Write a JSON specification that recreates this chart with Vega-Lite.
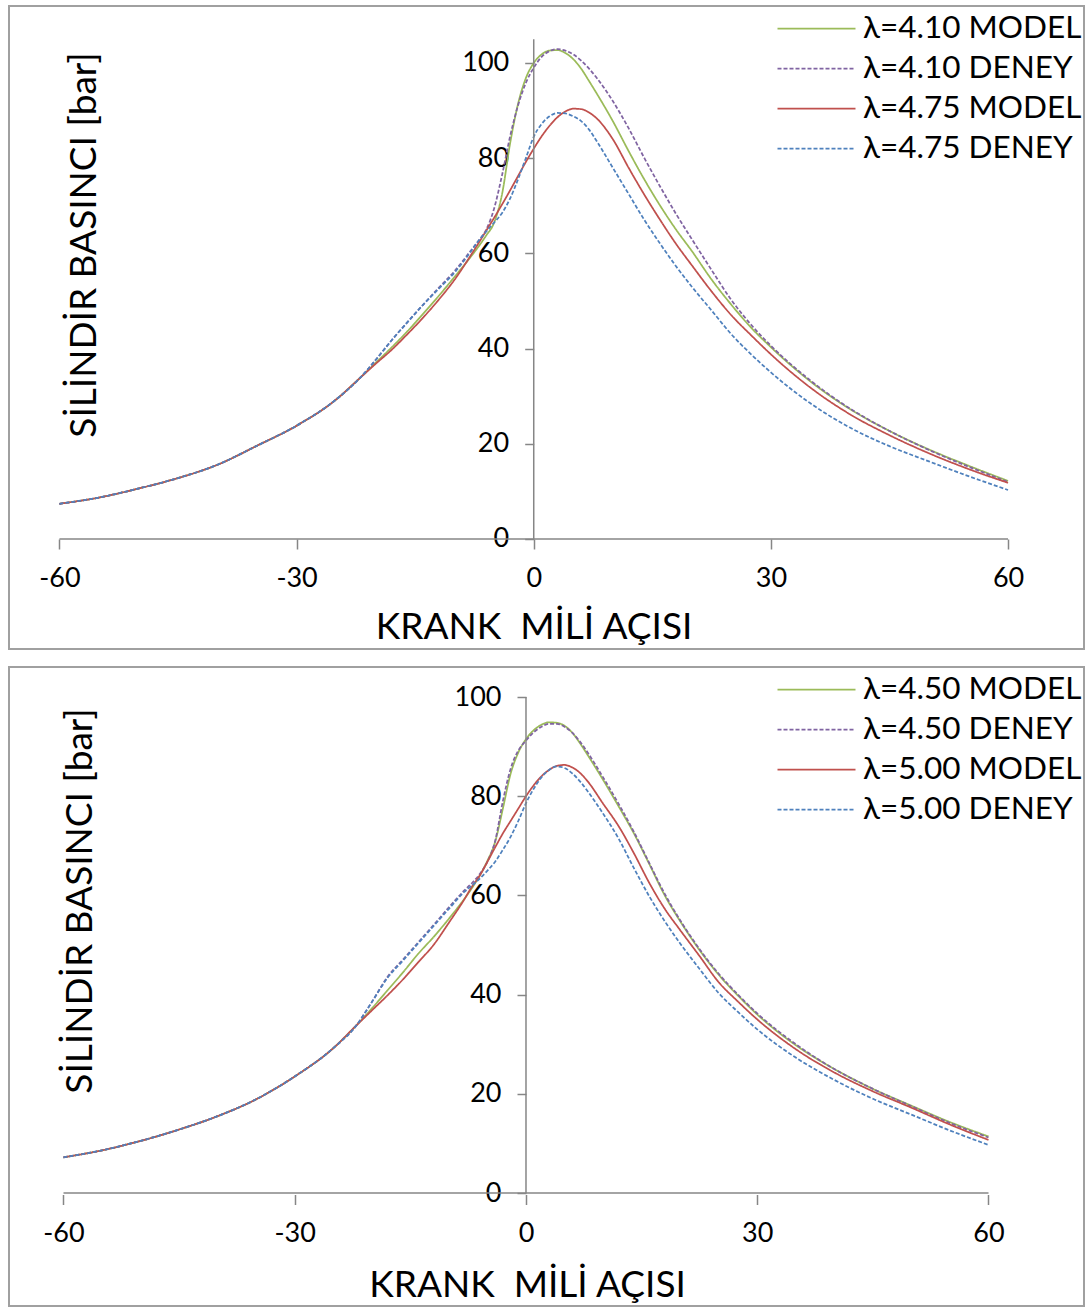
{
  "$schema": "https://vega.github.io/schema/vega-lite/v6.json",
  "padding": {"left": 8, "top": 5, "right": 4, "bottom": 3},
  "spacing": 16,
  "config": {
    "font": "Lato",
    "view": {"stroke": "#a0a0a0", "strokeWidth": 2},
    "axis": {"grid": false, "domain": false, "tickColor": "#868686", "tickWidth": 1.5, "labelColor": "#000000", "labelFontSize": 27, "titleColor": "#000000", "titleFontWeight": "normal", "titleFontSize": 37, "labelFlush": false, "labelOverlap": false, "labelExpr": "'' + datum.value"},
    "legend": {"orient": "top-right", "offset": 2, "padding": 0, "rowPadding": 4, "symbolType": "M-2,0H2", "symbolSize": 1521, "symbolStrokeWidth": 1.75, "labelFontSize": 31.5, "labelColor": "#000000", "labelOffset": 26, "labelLimit": 500}
  },
  "resolve": {"scale": {"color": "independent", "strokeDash": "independent"}},
  "vconcat": [
    {
      "width": 1075,
      "height": 643,
      "layer": [
        {
          "data": {"values": [
            {"s":"λ=4.10 MODEL","a":-60,"p":7.4},{"s":"λ=4.10 MODEL","a":-55,"p":8.7},{"s":"λ=4.10 MODEL","a":-50,"p":10.6},{"s":"λ=4.10 MODEL","a":-45,"p":12.8},{"s":"λ=4.10 MODEL","a":-40,"p":15.6},{"s":"λ=4.10 MODEL","a":-35,"p":19.6},{"s":"λ=4.10 MODEL","a":-30,"p":23.8},{"s":"λ=4.10 MODEL","a":-25,"p":29.3},{"s":"λ=4.10 MODEL","a":-22,"p":33.8},{"s":"λ=4.10 MODEL","a":-20,"p":37.0},{"s":"λ=4.10 MODEL","a":-18,"p":40.2},{"s":"λ=4.10 MODEL","a":-16,"p":43.6},{"s":"λ=4.10 MODEL","a":-14,"p":47.3},{"s":"λ=4.10 MODEL","a":-12,"p":51.1},{"s":"λ=4.10 MODEL","a":-10,"p":55.1},{"s":"λ=4.10 MODEL","a":-8,"p":59.2},{"s":"λ=4.10 MODEL","a":-7,"p":61.4},{"s":"λ=4.10 MODEL","a":-6,"p":63.8},{"s":"λ=4.10 MODEL","a":-5,"p":66.5},{"s":"λ=4.10 MODEL","a":-4,"p":72.5},{"s":"λ=4.10 MODEL","a":-3,"p":83.0},{"s":"λ=4.10 MODEL","a":-2,"p":91.3},{"s":"λ=4.10 MODEL","a":-1,"p":96.8},{"s":"λ=4.10 MODEL","a":0,"p":100.0},{"s":"λ=4.10 MODEL","a":1,"p":101.8},{"s":"λ=4.10 MODEL","a":2,"p":102.6},{"s":"λ=4.10 MODEL","a":3,"p":102.7},{"s":"λ=4.10 MODEL","a":4,"p":102.1},{"s":"λ=4.10 MODEL","a":5,"p":100.8},{"s":"λ=4.10 MODEL","a":6,"p":98.8},{"s":"λ=4.10 MODEL","a":7,"p":96.2},{"s":"λ=4.10 MODEL","a":8,"p":93.5},{"s":"λ=4.10 MODEL","a":10,"p":87.8},{"s":"λ=4.10 MODEL","a":12,"p":81.5},{"s":"λ=4.10 MODEL","a":14,"p":75.5},{"s":"λ=4.10 MODEL","a":16,"p":70.0},{"s":"λ=4.10 MODEL","a":18,"p":65.0},{"s":"λ=4.10 MODEL","a":20,"p":60.5},{"s":"λ=4.10 MODEL","a":22.5,"p":54.5},{"s":"λ=4.10 MODEL","a":25,"p":49.2},{"s":"λ=4.10 MODEL","a":27.5,"p":44.4},{"s":"λ=4.10 MODEL","a":30,"p":40.3},{"s":"λ=4.10 MODEL","a":35,"p":33.1},{"s":"λ=4.10 MODEL","a":40,"p":27.3},{"s":"λ=4.10 MODEL","a":45,"p":22.7},{"s":"λ=4.10 MODEL","a":50,"p":18.8},{"s":"λ=4.10 MODEL","a":55,"p":15.4},{"s":"λ=4.10 MODEL","a":60,"p":12.2},

            {"s":"λ=4.10 DENEY","a":-60,"p":7.4},{"s":"λ=4.10 DENEY","a":-55,"p":8.7},{"s":"λ=4.10 DENEY","a":-50,"p":10.6},{"s":"λ=4.10 DENEY","a":-45,"p":12.8},{"s":"λ=4.10 DENEY","a":-40,"p":15.6},{"s":"λ=4.10 DENEY","a":-35,"p":19.6},{"s":"λ=4.10 DENEY","a":-30,"p":23.8},{"s":"λ=4.10 DENEY","a":-25,"p":29.3},{"s":"λ=4.10 DENEY","a":-22,"p":33.8},{"s":"λ=4.10 DENEY","a":-20,"p":37.6},{"s":"λ=4.10 DENEY","a":-18,"p":41.7},{"s":"λ=4.10 DENEY","a":-16,"p":45.5},{"s":"λ=4.10 DENEY","a":-14,"p":49.2},{"s":"λ=4.10 DENEY","a":-12,"p":52.8},{"s":"λ=4.10 DENEY","a":-10,"p":56.3},{"s":"λ=4.10 DENEY","a":-8,"p":60.5},{"s":"λ=4.10 DENEY","a":-7,"p":62.6},{"s":"λ=4.10 DENEY","a":-6,"p":65.0},{"s":"λ=4.10 DENEY","a":-5,"p":69.5},{"s":"λ=4.10 DENEY","a":-4,"p":76.5},{"s":"λ=4.10 DENEY","a":-3,"p":84.5},{"s":"λ=4.10 DENEY","a":-2,"p":91.0},{"s":"λ=4.10 DENEY","a":-1,"p":95.8},{"s":"λ=4.10 DENEY","a":0,"p":99.0},{"s":"λ=4.10 DENEY","a":1,"p":101.3},{"s":"λ=4.10 DENEY","a":2,"p":102.5},{"s":"λ=4.10 DENEY","a":3,"p":102.9},{"s":"λ=4.10 DENEY","a":4,"p":102.6},{"s":"λ=4.10 DENEY","a":5,"p":101.8},{"s":"λ=4.10 DENEY","a":6,"p":100.5},{"s":"λ=4.10 DENEY","a":7,"p":98.8},{"s":"λ=4.10 DENEY","a":8,"p":96.8},{"s":"λ=4.10 DENEY","a":10,"p":92.0},{"s":"λ=4.10 DENEY","a":12,"p":86.3},{"s":"λ=4.10 DENEY","a":14,"p":80.0},{"s":"λ=4.10 DENEY","a":16,"p":74.0},{"s":"λ=4.10 DENEY","a":18,"p":68.3},{"s":"λ=4.10 DENEY","a":20,"p":63.0},{"s":"λ=4.10 DENEY","a":22.5,"p":56.5},{"s":"λ=4.10 DENEY","a":25,"p":50.2},{"s":"λ=4.10 DENEY","a":27.5,"p":45.0},{"s":"λ=4.10 DENEY","a":30,"p":40.6},{"s":"λ=4.10 DENEY","a":35,"p":33.3},{"s":"λ=4.10 DENEY","a":40,"p":27.4},{"s":"λ=4.10 DENEY","a":45,"p":22.7},{"s":"λ=4.10 DENEY","a":50,"p":18.7},{"s":"λ=4.10 DENEY","a":55,"p":15.2},{"s":"λ=4.10 DENEY","a":60,"p":12.0},

            {"s":"λ=4.75 MODEL","a":-60,"p":7.4},{"s":"λ=4.75 MODEL","a":-55,"p":8.7},{"s":"λ=4.75 MODEL","a":-50,"p":10.6},{"s":"λ=4.75 MODEL","a":-45,"p":12.8},{"s":"λ=4.75 MODEL","a":-40,"p":15.6},{"s":"λ=4.75 MODEL","a":-35,"p":19.6},{"s":"λ=4.75 MODEL","a":-30,"p":23.8},{"s":"λ=4.75 MODEL","a":-25,"p":29.3},{"s":"λ=4.75 MODEL","a":-22,"p":33.8},{"s":"λ=4.75 MODEL","a":-20,"p":36.8},{"s":"λ=4.75 MODEL","a":-18,"p":39.7},{"s":"λ=4.75 MODEL","a":-16,"p":43.0},{"s":"λ=4.75 MODEL","a":-14,"p":46.5},{"s":"λ=4.75 MODEL","a":-12,"p":50.3},{"s":"λ=4.75 MODEL","a":-10,"p":54.5},{"s":"λ=4.75 MODEL","a":-8,"p":59.5},{"s":"λ=4.75 MODEL","a":-7,"p":62.1},{"s":"λ=4.75 MODEL","a":-6,"p":64.8},{"s":"λ=4.75 MODEL","a":-5,"p":67.5},{"s":"λ=4.75 MODEL","a":-4,"p":70.3},{"s":"λ=4.75 MODEL","a":-3,"p":73.2},{"s":"λ=4.75 MODEL","a":-2,"p":76.2},{"s":"λ=4.75 MODEL","a":-1,"p":79.2},{"s":"λ=4.75 MODEL","a":0,"p":82.0},{"s":"λ=4.75 MODEL","a":1,"p":84.6},{"s":"λ=4.75 MODEL","a":2,"p":86.8},{"s":"λ=4.75 MODEL","a":3,"p":88.6},{"s":"λ=4.75 MODEL","a":4,"p":89.8},{"s":"λ=4.75 MODEL","a":5,"p":90.4},{"s":"λ=4.75 MODEL","a":6,"p":90.3},{"s":"λ=4.75 MODEL","a":7,"p":89.6},{"s":"λ=4.75 MODEL","a":8,"p":88.3},{"s":"λ=4.75 MODEL","a":10,"p":84.0},{"s":"λ=4.75 MODEL","a":12,"p":78.0},{"s":"λ=4.75 MODEL","a":14,"p":72.3},{"s":"λ=4.75 MODEL","a":16,"p":67.0},{"s":"λ=4.75 MODEL","a":18,"p":62.0},{"s":"λ=4.75 MODEL","a":20,"p":57.5},{"s":"λ=4.75 MODEL","a":22.5,"p":52.0},{"s":"λ=4.75 MODEL","a":25,"p":47.0},{"s":"λ=4.75 MODEL","a":27.5,"p":42.8},{"s":"λ=4.75 MODEL","a":30,"p":38.8},{"s":"λ=4.75 MODEL","a":35,"p":31.8},{"s":"λ=4.75 MODEL","a":40,"p":26.2},{"s":"λ=4.75 MODEL","a":45,"p":21.8},{"s":"λ=4.75 MODEL","a":50,"p":18.0},{"s":"λ=4.75 MODEL","a":55,"p":14.7},{"s":"λ=4.75 MODEL","a":60,"p":11.8},

            {"s":"λ=4.75 DENEY","a":-60,"p":7.4},{"s":"λ=4.75 DENEY","a":-55,"p":8.7},{"s":"λ=4.75 DENEY","a":-50,"p":10.6},{"s":"λ=4.75 DENEY","a":-45,"p":12.8},{"s":"λ=4.75 DENEY","a":-40,"p":15.6},{"s":"λ=4.75 DENEY","a":-35,"p":19.6},{"s":"λ=4.75 DENEY","a":-30,"p":23.8},{"s":"λ=4.75 DENEY","a":-25,"p":29.3},{"s":"λ=4.75 DENEY","a":-22,"p":33.8},{"s":"λ=4.75 DENEY","a":-20,"p":37.6},{"s":"λ=4.75 DENEY","a":-18,"p":41.7},{"s":"λ=4.75 DENEY","a":-16,"p":45.5},{"s":"λ=4.75 DENEY","a":-14,"p":49.2},{"s":"λ=4.75 DENEY","a":-12,"p":52.6},{"s":"λ=4.75 DENEY","a":-10,"p":56.0},{"s":"λ=4.75 DENEY","a":-8,"p":60.3},{"s":"λ=4.75 DENEY","a":-7,"p":62.6},{"s":"λ=4.75 DENEY","a":-6,"p":64.6},{"s":"λ=4.75 DENEY","a":-5,"p":66.5},{"s":"λ=4.75 DENEY","a":-4,"p":68.5},{"s":"λ=4.75 DENEY","a":-3,"p":71.5},{"s":"λ=4.75 DENEY","a":-2,"p":75.5},{"s":"λ=4.75 DENEY","a":-1,"p":80.0},{"s":"λ=4.75 DENEY","a":0,"p":84.5},{"s":"λ=4.75 DENEY","a":1,"p":87.2},{"s":"λ=4.75 DENEY","a":2,"p":88.8},{"s":"λ=4.75 DENEY","a":3,"p":89.5},{"s":"λ=4.75 DENEY","a":4,"p":89.4},{"s":"λ=4.75 DENEY","a":5,"p":88.8},{"s":"λ=4.75 DENEY","a":6,"p":87.8},{"s":"λ=4.75 DENEY","a":7,"p":86.0},{"s":"λ=4.75 DENEY","a":8,"p":83.5},{"s":"λ=4.75 DENEY","a":10,"p":78.0},{"s":"λ=4.75 DENEY","a":12,"p":72.5},{"s":"λ=4.75 DENEY","a":14,"p":67.0},{"s":"λ=4.75 DENEY","a":16,"p":62.0},{"s":"λ=4.75 DENEY","a":18,"p":57.3},{"s":"λ=4.75 DENEY","a":20,"p":53.0},{"s":"λ=4.75 DENEY","a":22.5,"p":48.0},{"s":"λ=4.75 DENEY","a":25,"p":43.0},{"s":"λ=4.75 DENEY","a":27.5,"p":38.8},{"s":"λ=4.75 DENEY","a":30,"p":35.0},{"s":"λ=4.75 DENEY","a":35,"p":28.5},{"s":"λ=4.75 DENEY","a":40,"p":23.4},{"s":"λ=4.75 DENEY","a":45,"p":19.5},{"s":"λ=4.75 DENEY","a":50,"p":16.3},{"s":"λ=4.75 DENEY","a":55,"p":13.2},{"s":"λ=4.75 DENEY","a":60,"p":10.3}
          ]},
          "mark": {"type": "line", "interpolate": "monotone", "strokeWidth": 1.75},
          "encoding": {
            "x": {"field": "a", "type": "quantitative", "scale": {"domain": [-66.38, 69.61], "nice": false, "zero": false},
                  "axis": {"values": [-60, -30, 0, 30, 60], "offset": -110, "tickSize": 10, "labelPadding": 16, "title": "KRANK\u00a0 MİLİ AÇISI", "titleX": 524.5, "titleY": 99, "titleAlign": "center", "titleBaseline": "alphabetic"}},
            "y": {"field": "p", "type": "quantitative", "scale": {"domain": [-23.11, 111.97], "nice": false, "zero": false},
                  "axis": {"values": [0, 20, 40, 60, 80, 100], "offset": -524.7, "tickSize": 9, "labelPadding": 16, "title": "SİLİNDİR BASINCI [bar]", "titleAngle": 270, "titleX": -438, "titleY": 238.5, "titleAlign": "center", "titleBaseline": "alphabetic"}},
            "color": {"field": "s", "type": "nominal", "title": null,
                      "scale": {"domain": ["λ=4.10 MODEL", "λ=4.10 DENEY", "λ=4.75 MODEL", "λ=4.75 DENEY"], "range": ["#9bbb59", "#8064a2", "#c0504d", "#4f81bd"]}},
            "strokeDash": {"field": "s", "type": "nominal", "title": null,
                      "scale": {"domain": ["λ=4.10 MODEL", "λ=4.10 DENEY", "λ=4.75 MODEL", "λ=4.75 DENEY"], "range": [[1, 0], [4, 2], [1, 0], [4, 2]]}}
          }
        },
        {"data": {"values": [{}]}, "mark": {"type": "rule", "color": "#868686", "strokeWidth": 1.5},
         "encoding": {"x": {"datum": -60, "type": "quantitative"}, "x2": {"datum": 60}, "y": {"datum": 0, "type": "quantitative"}}},
        {"data": {"values": [{}]}, "mark": {"type": "rule", "color": "#868686", "strokeWidth": 1.5},
         "encoding": {"x": {"datum": 0, "type": "quantitative"}, "y": {"datum": 0, "type": "quantitative"}, "y2": {"datum": 105}}}
      ]
    },
    {
      "width": 1075,
      "height": 639,
      "layer": [
        {
          "data": {"values": [
            {"s":"λ=4.50 MODEL","a":-60,"p":7.2},{"s":"λ=4.50 MODEL","a":-55,"p":8.6},{"s":"λ=4.50 MODEL","a":-50,"p":10.5},{"s":"λ=4.50 MODEL","a":-45,"p":12.8},{"s":"λ=4.50 MODEL","a":-40,"p":15.5},{"s":"λ=4.50 MODEL","a":-35,"p":18.9},{"s":"λ=4.50 MODEL","a":-30,"p":23.5},{"s":"λ=4.50 MODEL","a":-25,"p":29.2},{"s":"λ=4.50 MODEL","a":-22,"p":33.8},{"s":"λ=4.50 MODEL","a":-20,"p":37.2},{"s":"λ=4.50 MODEL","a":-18,"p":40.8},{"s":"λ=4.50 MODEL","a":-16,"p":44.4},{"s":"λ=4.50 MODEL","a":-14,"p":48.2},{"s":"λ=4.50 MODEL","a":-12,"p":51.6},{"s":"λ=4.50 MODEL","a":-10,"p":55.3},{"s":"λ=4.50 MODEL","a":-8,"p":59.3},{"s":"λ=4.50 MODEL","a":-7,"p":61.5},{"s":"λ=4.50 MODEL","a":-6,"p":64.0},{"s":"λ=4.50 MODEL","a":-5,"p":67.0},{"s":"λ=4.50 MODEL","a":-4,"p":70.8},{"s":"λ=4.50 MODEL","a":-3,"p":77.5},{"s":"λ=4.50 MODEL","a":-2,"p":84.5},{"s":"λ=4.50 MODEL","a":-1,"p":88.8},{"s":"λ=4.50 MODEL","a":0,"p":91.5},{"s":"λ=4.50 MODEL","a":1,"p":93.3},{"s":"λ=4.50 MODEL","a":2,"p":94.4},{"s":"λ=4.50 MODEL","a":3,"p":94.9},{"s":"λ=4.50 MODEL","a":4,"p":94.8},{"s":"λ=4.50 MODEL","a":5,"p":94.2},{"s":"λ=4.50 MODEL","a":6,"p":92.8},{"s":"λ=4.50 MODEL","a":7,"p":90.7},{"s":"λ=4.50 MODEL","a":8,"p":88.3},{"s":"λ=4.50 MODEL","a":10,"p":83.3},{"s":"λ=4.50 MODEL","a":12,"p":78.0},{"s":"λ=4.50 MODEL","a":14,"p":72.5},{"s":"λ=4.50 MODEL","a":16,"p":66.3},{"s":"λ=4.50 MODEL","a":18,"p":60.0},{"s":"λ=4.50 MODEL","a":20,"p":54.8},{"s":"λ=4.50 MODEL","a":22.5,"p":49.0},{"s":"λ=4.50 MODEL","a":25,"p":44.0},{"s":"λ=4.50 MODEL","a":27.5,"p":39.8},{"s":"λ=4.50 MODEL","a":30,"p":36.0},{"s":"λ=4.50 MODEL","a":35,"p":29.8},{"s":"λ=4.50 MODEL","a":40,"p":25.0},{"s":"λ=4.50 MODEL","a":45,"p":21.0},{"s":"λ=4.50 MODEL","a":50,"p":17.6},{"s":"λ=4.50 MODEL","a":55,"p":14.3},{"s":"λ=4.50 MODEL","a":60,"p":11.4},

            {"s":"λ=4.50 DENEY","a":-60,"p":7.2},{"s":"λ=4.50 DENEY","a":-55,"p":8.6},{"s":"λ=4.50 DENEY","a":-50,"p":10.5},{"s":"λ=4.50 DENEY","a":-45,"p":12.8},{"s":"λ=4.50 DENEY","a":-40,"p":15.5},{"s":"λ=4.50 DENEY","a":-35,"p":18.9},{"s":"λ=4.50 DENEY","a":-30,"p":23.5},{"s":"λ=4.50 DENEY","a":-25,"p":29.2},{"s":"λ=4.50 DENEY","a":-22,"p":33.8},{"s":"λ=4.50 DENEY","a":-20,"p":38.5},{"s":"λ=4.50 DENEY","a":-18,"p":43.5},{"s":"λ=4.50 DENEY","a":-16,"p":47.0},{"s":"λ=4.50 DENEY","a":-14,"p":50.5},{"s":"λ=4.50 DENEY","a":-12,"p":54.0},{"s":"λ=4.50 DENEY","a":-10,"p":57.6},{"s":"λ=4.50 DENEY","a":-8,"p":61.0},{"s":"λ=4.50 DENEY","a":-7,"p":62.5},{"s":"λ=4.50 DENEY","a":-6,"p":64.3},{"s":"λ=4.50 DENEY","a":-5,"p":66.8},{"s":"λ=4.50 DENEY","a":-4,"p":71.0},{"s":"λ=4.50 DENEY","a":-3,"p":79.0},{"s":"λ=4.50 DENEY","a":-2,"p":85.5},{"s":"λ=4.50 DENEY","a":-1,"p":89.2},{"s":"λ=4.50 DENEY","a":0,"p":91.2},{"s":"λ=4.50 DENEY","a":1,"p":92.9},{"s":"λ=4.50 DENEY","a":2,"p":94.0},{"s":"λ=4.50 DENEY","a":3,"p":94.6},{"s":"λ=4.50 DENEY","a":4,"p":94.6},{"s":"λ=4.50 DENEY","a":5,"p":94.0},{"s":"λ=4.50 DENEY","a":6,"p":92.8},{"s":"λ=4.50 DENEY","a":7,"p":91.0},{"s":"λ=4.50 DENEY","a":8,"p":88.8},{"s":"λ=4.50 DENEY","a":10,"p":83.8},{"s":"λ=4.50 DENEY","a":12,"p":78.5},{"s":"λ=4.50 DENEY","a":14,"p":72.8},{"s":"λ=4.50 DENEY","a":16,"p":66.5},{"s":"λ=4.50 DENEY","a":18,"p":60.3},{"s":"λ=4.50 DENEY","a":20,"p":55.0},{"s":"λ=4.50 DENEY","a":22.5,"p":49.2},{"s":"λ=4.50 DENEY","a":25,"p":44.2},{"s":"λ=4.50 DENEY","a":27.5,"p":40.0},{"s":"λ=4.50 DENEY","a":30,"p":36.2},{"s":"λ=4.50 DENEY","a":35,"p":30.0},{"s":"λ=4.50 DENEY","a":40,"p":25.0},{"s":"λ=4.50 DENEY","a":45,"p":21.0},{"s":"λ=4.50 DENEY","a":50,"p":17.5},{"s":"λ=4.50 DENEY","a":55,"p":14.1},{"s":"λ=4.50 DENEY","a":60,"p":11.2},

            {"s":"λ=5.00 MODEL","a":-60,"p":7.2},{"s":"λ=5.00 MODEL","a":-55,"p":8.6},{"s":"λ=5.00 MODEL","a":-50,"p":10.5},{"s":"λ=5.00 MODEL","a":-45,"p":12.8},{"s":"λ=5.00 MODEL","a":-40,"p":15.5},{"s":"λ=5.00 MODEL","a":-35,"p":18.9},{"s":"λ=5.00 MODEL","a":-30,"p":23.5},{"s":"λ=5.00 MODEL","a":-25,"p":29.2},{"s":"λ=5.00 MODEL","a":-22,"p":33.8},{"s":"λ=5.00 MODEL","a":-20,"p":36.8},{"s":"λ=5.00 MODEL","a":-18,"p":39.8},{"s":"λ=5.00 MODEL","a":-16,"p":43.0},{"s":"λ=5.00 MODEL","a":-14,"p":46.5},{"s":"λ=5.00 MODEL","a":-12,"p":50.0},{"s":"λ=5.00 MODEL","a":-10,"p":54.5},{"s":"λ=5.00 MODEL","a":-8,"p":59.2},{"s":"λ=5.00 MODEL","a":-7,"p":61.8},{"s":"λ=5.00 MODEL","a":-6,"p":64.0},{"s":"λ=5.00 MODEL","a":-5,"p":66.8},{"s":"λ=5.00 MODEL","a":-4,"p":69.7},{"s":"λ=5.00 MODEL","a":-3,"p":72.5},{"s":"λ=5.00 MODEL","a":-2,"p":75.0},{"s":"λ=5.00 MODEL","a":-1,"p":77.5},{"s":"λ=5.00 MODEL","a":0,"p":80.0},{"s":"λ=5.00 MODEL","a":1,"p":82.2},{"s":"λ=5.00 MODEL","a":2,"p":84.0},{"s":"λ=5.00 MODEL","a":3,"p":85.3},{"s":"λ=5.00 MODEL","a":4,"p":86.1},{"s":"λ=5.00 MODEL","a":5,"p":86.3},{"s":"λ=5.00 MODEL","a":6,"p":85.8},{"s":"λ=5.00 MODEL","a":7,"p":84.7},{"s":"λ=5.00 MODEL","a":8,"p":83.0},{"s":"λ=5.00 MODEL","a":10,"p":78.5},{"s":"λ=5.00 MODEL","a":12,"p":74.0},{"s":"λ=5.00 MODEL","a":14,"p":68.5},{"s":"λ=5.00 MODEL","a":16,"p":62.5},{"s":"λ=5.00 MODEL","a":18,"p":57.3},{"s":"λ=5.00 MODEL","a":20,"p":53.0},{"s":"λ=5.00 MODEL","a":22.5,"p":47.8},{"s":"λ=5.00 MODEL","a":25,"p":42.5},{"s":"λ=5.00 MODEL","a":27.5,"p":38.6},{"s":"λ=5.00 MODEL","a":30,"p":35.0},{"s":"λ=5.00 MODEL","a":35,"p":29.0},{"s":"λ=5.00 MODEL","a":40,"p":24.3},{"s":"λ=5.00 MODEL","a":45,"p":20.5},{"s":"λ=5.00 MODEL","a":50,"p":17.2},{"s":"λ=5.00 MODEL","a":55,"p":13.8},{"s":"λ=5.00 MODEL","a":60,"p":10.7},

            {"s":"λ=5.00 DENEY","a":-60,"p":7.2},{"s":"λ=5.00 DENEY","a":-55,"p":8.6},{"s":"λ=5.00 DENEY","a":-50,"p":10.5},{"s":"λ=5.00 DENEY","a":-45,"p":12.8},{"s":"λ=5.00 DENEY","a":-40,"p":15.5},{"s":"λ=5.00 DENEY","a":-35,"p":18.9},{"s":"λ=5.00 DENEY","a":-30,"p":23.5},{"s":"λ=5.00 DENEY","a":-25,"p":29.2},{"s":"λ=5.00 DENEY","a":-22,"p":33.8},{"s":"λ=5.00 DENEY","a":-20,"p":38.5},{"s":"λ=5.00 DENEY","a":-18,"p":43.3},{"s":"λ=5.00 DENEY","a":-16,"p":46.8},{"s":"λ=5.00 DENEY","a":-14,"p":50.3},{"s":"λ=5.00 DENEY","a":-12,"p":53.8},{"s":"λ=5.00 DENEY","a":-10,"p":57.3},{"s":"λ=5.00 DENEY","a":-8,"p":60.7},{"s":"λ=5.00 DENEY","a":-7,"p":62.0},{"s":"λ=5.00 DENEY","a":-6,"p":63.4},{"s":"λ=5.00 DENEY","a":-5,"p":65.0},{"s":"λ=5.00 DENEY","a":-4,"p":66.8},{"s":"λ=5.00 DENEY","a":-3,"p":69.2},{"s":"λ=5.00 DENEY","a":-2,"p":71.8},{"s":"λ=5.00 DENEY","a":-1,"p":75.0},{"s":"λ=5.00 DENEY","a":0,"p":78.6},{"s":"λ=5.00 DENEY","a":1,"p":81.5},{"s":"λ=5.00 DENEY","a":2,"p":83.8},{"s":"λ=5.00 DENEY","a":3,"p":85.3},{"s":"λ=5.00 DENEY","a":4,"p":86.0},{"s":"λ=5.00 DENEY","a":5,"p":85.7},{"s":"λ=5.00 DENEY","a":6,"p":84.6},{"s":"λ=5.00 DENEY","a":7,"p":83.0},{"s":"λ=5.00 DENEY","a":8,"p":81.0},{"s":"λ=5.00 DENEY","a":10,"p":76.5},{"s":"λ=5.00 DENEY","a":12,"p":71.5},{"s":"λ=5.00 DENEY","a":14,"p":65.5},{"s":"λ=5.00 DENEY","a":16,"p":59.8},{"s":"λ=5.00 DENEY","a":18,"p":54.8},{"s":"λ=5.00 DENEY","a":20,"p":50.3},{"s":"λ=5.00 DENEY","a":22.5,"p":45.2},{"s":"λ=5.00 DENEY","a":25,"p":40.3},{"s":"λ=5.00 DENEY","a":27.5,"p":36.5},{"s":"λ=5.00 DENEY","a":30,"p":33.0},{"s":"λ=5.00 DENEY","a":35,"p":27.3},{"s":"λ=5.00 DENEY","a":40,"p":22.8},{"s":"λ=5.00 DENEY","a":45,"p":19.0},{"s":"λ=5.00 DENEY","a":50,"p":15.8},{"s":"λ=5.00 DENEY","a":55,"p":12.6},{"s":"λ=5.00 DENEY","a":60,"p":9.7}
          ]},
          "mark": {"type": "line", "interpolate": "monotone", "strokeWidth": 1.75},
          "encoding": {
            "x": {"field": "a", "type": "quantitative", "scale": {"domain": [-67.07, 72.39], "nice": false, "zero": false},
                  "axis": {"values": [-60, -30, 0, 30, 60], "offset": -111.5, "tickSize": 10, "labelPadding": 16, "title": "KRANK\u00a0 MİLİ AÇISI", "titleX": 518, "titleY": 102, "titleAlign": "center", "titleBaseline": "alphabetic"}},
            "y": {"field": "p", "type": "quantitative", "scale": {"domain": [-22.78, 106.05], "nice": false, "zero": false},
                  "axis": {"values": [0, 20, 40, 60, 80, 100], "offset": -517, "tickSize": 9, "labelPadding": 16, "title": "SİLİNDİR BASINCI [bar]", "titleAngle": 270, "titleX": -435, "titleY": 233.5, "titleAlign": "center", "titleBaseline": "alphabetic"}},
            "color": {"field": "s", "type": "nominal", "title": null,
                      "scale": {"domain": ["λ=4.50 MODEL", "λ=4.50 DENEY", "λ=5.00 MODEL", "λ=5.00 DENEY"], "range": ["#9bbb59", "#8064a2", "#c0504d", "#4f81bd"]}},
            "strokeDash": {"field": "s", "type": "nominal", "title": null,
                      "scale": {"domain": ["λ=4.50 MODEL", "λ=4.50 DENEY", "λ=5.00 MODEL", "λ=5.00 DENEY"], "range": [[1, 0], [4, 2], [1, 0], [4, 2]]}}
          }
        },
        {"data": {"values": [{}]}, "mark": {"type": "rule", "color": "#868686", "strokeWidth": 1.5},
         "encoding": {"x": {"datum": -60, "type": "quantitative"}, "x2": {"datum": 60}, "y": {"datum": 0, "type": "quantitative"}}},
        {"data": {"values": [{}]}, "mark": {"type": "rule", "color": "#868686", "strokeWidth": 1.5},
         "encoding": {"x": {"datum": 0, "type": "quantitative"}, "y": {"datum": 0, "type": "quantitative"}, "y2": {"datum": 100}}}
      ]
    }
  ]
}
